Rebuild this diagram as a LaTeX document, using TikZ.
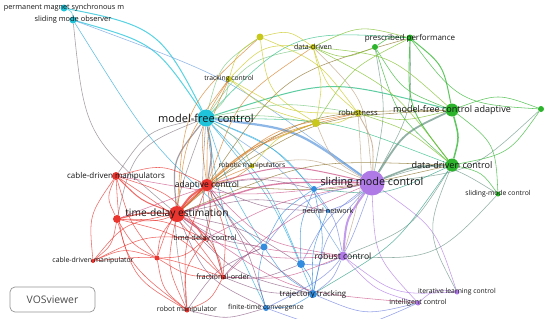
\documentclass[tikz,border=0pt]{standalone}
\usepackage{fontspec}
\setmainfont{Open Sans}
\definecolor{kcyan}{RGB}{32,196,218}
\definecolor{kyel}{RGB}{200,200,28}
\definecolor{kgreen}{RGB}{44,180,44}
\definecolor{kpurp}{RGB}{176,122,230}
\definecolor{kblue}{RGB}{52,140,222}
\definecolor{kred}{RGB}{234,52,46}
\definecolor{kbox}{RGB}{150,150,150}
\pgfdeclarelayer{edges}
\pgfdeclarelayer{labels}
\pgfsetlayers{edges,main,labels}
\tikzset{
  kwnode/.style={circle,inner sep=0pt,draw=none},
  kwlab/.style={inner sep=0pt,text=black!92},
  lk/.style={line width=0.55pt,draw opacity=0.75,bend left=20,looseness=1.35},
  logo/.style={draw=kbox,rounded corners=5pt,line width=0.7pt},
}
% name, x, y, colour, diameter, font size, text
\newcommand\kw[7]{%
  \node[kwnode,fill=#4,minimum size=#5pt] (#1) at (#2,#3) {};%
  \colorlet{c#1}{#4}%
  \def\kwtmp{#7}%
  \ifx\kwtmp\empty\else
  \begin{pgfonlayer}{labels}
  \node[kwlab,font=\fontsize{#6}{#6}\selectfont] (l#1) at (#2,#3) {#7};
  \end{pgfonlayer}\fi}
\newcommand\lk[3][]{\draw[lk,draw=c#2!50!c#3,#1] (#2) to (#3);}
\begin{document}
\begin{tikzpicture}[x=1pt,y=-1pt]
\useasboundingbox (0,0) rectangle (550,319);
\begin{pgfonlayer}{edges}
\fill[white] (0,0) rectangle (550,319);
\end{pgfonlayer}
% keywords
\kw{pmsm}{64}{8}{kcyan}{7}{7.3}{permanent magnet synchronous m}
\kw{smo}{73}{20}{kcyan}{7}{7.4}{sliding mode observer}
\kw{mfc}{206}{118}{kcyan}{17}{11}{model-free control}
\kw{tc}{229}{79}{kyel}{6}{6.8}{tracking control}
\kw{ya}{260}{37}{kyel}{7}{}{}
\kw{dd}{313}{47}{kyel}{6}{7.1}{data-driven}
\kw{rob}{358}{113}{kyel}{7}{7.6}{robustness}
\kw{yb}{316}{123}{kyel}{8}{}{}
\kw{rmb}{252}{166}{kyel}{5}{6.8}{robotic manipulators}
\kw{ga}{375}{47}{kgreen}{6}{}{}
\kw{pp}{410}{38}{kgreen}{7}{8}{prescribed performance}
\kw{mfca}{452}{110}{kgreen}{13}{9.1}{model-free control adaptive}
\kw{gb}{541}{109}{kgreen}{6}{}{}
\kw{ddc}{452}{165}{kgreen}{13}{9.1}{data-driven control}
\kw{smcb}{498}{194}{kgreen}{5}{6.8}{sliding-mode control}
\kw{smc}{372}{183}{kpurp}{25}{10.8}{sliding mode control}
\kw{rc}{343}{256}{kpurp}{9}{8.6}{robust control}
\kw{ilc}{457}{292}{kpurp}{5}{6.8}{iterative learning control}
\kw{ic}{418}{303}{kpurp}{5}{7}{intelligent control}
\kw{ba}{314}{189}{kblue}{6}{}{}
\kw{nn}{328}{211}{kblue}{4}{7.2}{neural network}
\kw{bb}{264}{247}{kblue}{7}{}{}
\kw{bc}{301}{264}{kblue}{8}{}{}
\kw{tt}{313}{294}{kblue}{8}{7.9}{trajectory tracking}
\kw{ftc}{266}{308}{kblue}{6}{6.9}{finite-time convergence}
\kw{tde}{177}{214}{kred}{16}{10.2}{time-delay estimation}
\kw{cdms}{116}{176}{kred}{8}{8}{cable-driven manipulators}
\kw{ac}{207}{185}{kred}{12}{8.5}{adaptive control}
\kw{ra}{117}{219}{kred}{8}{}{}
\kw{tdc}{205}{239}{kred}{4}{7.5}{time-delay control}
\kw{rb}{157}{258}{kred}{5}{}{}
\kw{cdm}{93}{261}{kred}{4}{6.9}{cable-driven manipulator}
\kw{fo}{223}{277}{kred}{5}{7.3}{fractional-order}
\kw{rm}{187}{310}{kred}{5}{7}{robot manipulator}
% logo
\node[logo,minimum width=85pt,minimum height=25pt] (logo) at (52.5,299.5) {};
\node[text=black!70,font=\fontsize{10.4}{10.4}\selectfont] (logotext) at (logo.center) {VOSviewer};
% links
\begin{pgfonlayer}{edges}
% cyan
\lk[line width=1pt,bend left=26]{pmsm}{mfc}
\lk[line width=1pt,bend left=20]{smo}{mfc}
\lk[bend left=30]{pmsm}{smo}
\lk[bend right=8]{smo}{bb}
\lk[bend right=22]{smo}{tde}
\lk[bend left=8]{smo}{smc}
% model-free control
\lk[line width=2.2pt,bend left=14]{mfc}{smc}
\lk[line width=1pt,bend left=16]{mfc}{mfca}
\lk[bend left=10]{mfc}{ddc}
\lk[bend left=10]{mfc}{rob}
\lk[bend left=6]{mfc}{yb}
\lk[bend right=20]{mfc}{tc}
\lk[bend left=22]{mfc}{dd}
\lk[bend left=25]{mfc}{pp}
\lk[bend left=20]{mfc}{ya}
\lk[line width=1.2pt,bend right=22]{mfc}{tde}
\lk[line width=1.2pt,bend left=10]{mfc}{ac}
\lk[bend right=22]{mfc}{cdms}
\lk[bend right=28]{mfc}{ra}
\lk[bend left=8]{mfc}{tdc}
\lk[bend right=10]{mfc}{fo}
\lk[bend right=15]{mfc}{rm}
\lk[bend left=12]{mfc}{ba}
\lk[bend left=15]{mfc}{nn}
\lk[bend left=12]{mfc}{rc}
\lk[bend left=8]{mfc}{tt}
\lk[bend left=10]{mfc}{bc}
\lk[bend right=6]{mfc}{bb}
\lk[bend right=8]{mfc}{ftc}
\lk[bend left=15]{mfc}{rmb}
% sliding mode control
\lk[line width=2pt,bend right=15]{smc}{rc}
\lk[bend left=18]{smc}{ilc}
\lk[bend right=20]{smc}{ic}
\lk[line width=1.6pt,bend left=10]{smc}{ddc}
\lk[line width=1.8pt,bend left=16]{smc}{mfca}
\lk[line width=1.4pt,bend right=10]{smc}{tde}
\lk[line width=1pt,bend right=14]{smc}{ac}
\lk[bend right=15]{smc}{tt}
\lk[bend right=15]{smc}{ba}
\lk[bend left=10]{smc}{nn}
\lk[bend right=12]{smc}{bc}
\lk[bend right=20]{smc}{bb}
\lk[bend left=22]{smc}{ftc}
\lk[line width=0.9pt,bend right=15]{smc}{rob}
\lk[bend left=18]{smc}{yb}
\lk[bend right=15]{smc}{pp}
\lk[bend right=10]{smc}{ga}
\lk[bend right=20]{smc}{dd}
\lk[bend left=25]{smc}{smcb}
\lk[bend right=10]{smc}{fo}
\lk[bend right=8]{smc}{tdc}
\lk[bend right=16]{smc}{rmb}
\lk[bend right=12]{smc}{ra}
\lk[bend left=8]{smc}{cdms}
\lk[bend right=18]{smc}{gb}
% time-delay estimation
\lk[line width=2pt,bend left=10]{tde}{ac}
\lk[line width=1pt,bend left=12]{tde}{cdms}
\lk[line width=1.2pt,bend right=8]{tde}{ra}
\lk[bend left=15]{tde}{tdc}
\lk[bend right=15]{tde}{rb}
\lk[bend right=20]{tde}{cdm}
\lk[bend left=20]{tde}{fo}
\lk[bend right=18]{tde}{rm}
\lk[bend right=10]{tde}{rc}
\lk[bend right=16]{tde}{tt}
\lk[bend left=10]{tde}{bc}
\lk[bend right=12]{tde}{bb}
\lk[bend right=20]{tde}{ftc}
\lk[bend left=12]{tde}{nn}
\lk[bend left=15]{tde}{rob}
\lk[bend left=12]{tde}{yb}
\lk[bend left=12]{tde}{ddc}
\lk[bend left=20]{tde}{mfca}
\lk[bend left=22]{tde}{ya}
\lk[bend left=15]{tde}{tc}
\lk[bend left=10]{tde}{rmb}
% adaptive control
\lk[bend right=20]{ac}{cdms}
\lk[bend left=25]{ac}{ra}
\lk[bend left=12]{ac}{tdc}
\lk[bend left=14]{ac}{fo}
\lk[bend right=12]{ac}{rm}
\lk[bend right=18]{ac}{rc}
\lk[bend right=10]{ac}{tt}
\lk[bend left=10]{ac}{ba}
\lk[bend right=10]{ac}{nn}
\lk[bend left=15]{ac}{rob}
\lk[bend left=10]{ac}{yb}
\lk[bend right=8]{ac}{ddc}
\lk[bend left=14]{ac}{mfca}
\lk[bend left=20]{ac}{pp}
\lk[bend left=18]{ac}{dd}
\lk[bend left=12]{ac}{tc}
\lk[bend right=15]{ac}{rb}
\lk[bend left=8]{ac}{ftc}
% red cluster
\lk[bend right=25]{cdms}{ra}
\lk[bend right=20]{cdms}{cdm}
\lk[bend left=20]{ra}{cdm}
\lk[bend right=15]{ra}{rb}
\lk[bend left=12]{ra}{tdc}
\lk[bend right=20]{rb}{cdm}
\lk[bend right=15]{rb}{fo}
\lk[bend right=20]{rb}{rm}
\lk[bend left=15]{cdm}{tdc}
\lk[bend left=20]{fo}{rm}
\lk[bend left=15]{tdc}{fo}
\lk[bend right=20]{tdc}{rm}
\lk[bend left=18]{cdms}{tdc}
\lk[bend right=10]{cdms}{rb}
\lk[bend right=22]{ra}{rm}
\lk[bend left=10]{cdms}{fo}
\lk[bend left=15]{ra}{fo}
\lk[bend left=20]{tdc}{rb}
\lk[bend right=25]{cdms}{rm}
\lk[bend left=12]{cdm}{fo}
% green cluster
\lk[line width=1.5pt,bend left=15]{mfca}{ddc}
\lk[line width=1pt,bend right=20]{mfca}{pp}
\lk[bend left=18]{mfca}{ga}
\lk[bend left=20]{mfca}{gb}
\lk[bend right=22]{ddc}{gb}
\lk[line width=0.9pt,bend left=20]{ddc}{pp}
\lk[bend left=15]{ddc}{ga}
\lk[bend left=20]{ddc}{smcb}
\lk[bend right=20]{pp}{ga}
\lk[bend right=20]{pp}{dd}
\lk[bend left=22]{ga}{dd}
\lk[bend left=12]{mfca}{rob}
\lk[bend left=25]{mfca}{smcb}
\lk[bend left=18]{ddc}{rc}
\lk[bend left=25]{smcb}{rc}
\lk[bend right=25]{ddc}{ilc}
\lk[bend left=25]{gb}{pp}
\lk[bend right=15]{pp}{yb}
\lk[bend left=12]{ddc}{tt}
\lk[bend right=18]{mfca}{dd}
\lk[bend left=15]{ddc}{ba}
% yellow cluster
\lk[bend left=25]{tc}{dd}
\lk[bend left=20]{tc}{ya}
\lk[bend left=25]{ya}{dd}
\lk[bend left=15]{ya}{rob}
\lk[bend right=15]{dd}{rob}
\lk[bend left=12]{dd}{yb}
\lk[bend right=15]{tc}{rob}
\lk[bend right=12]{tc}{yb}
\lk[bend left=15]{rob}{yb}
\lk[bend left=10]{rob}{ddc}
\lk[bend right=15]{yb}{rmb}
\lk[bend right=20]{tc}{ac}
\lk[bend left=12]{dd}{ddc}
\lk[bend left=10]{rob}{rc}
\lk[bend left=12]{rmb}{ac}
\lk[bend right=25]{ya}{yb}
% blue cluster
\lk[bend left=12]{ba}{tt}
\lk[bend right=12]{ba}{bc}
\lk[bend right=15]{ba}{bb}
\lk[bend right=12]{bb}{tt}
\lk[bend right=15]{bb}{ftc}
\lk[bend left=15]{bc}{tt}
\lk[bend left=15]{tt}{ftc}
\lk[bend right=15]{bc}{rc}
\lk[bend right=15]{tt}{rc}
\lk[bend right=18]{tt}{ic}
\lk[bend right=22]{ftc}{ic}
\lk[bend right=12]{bb}{fo}
\lk[bend left=12]{bc}{fo}
\lk[bend right=12]{nn}{tt}
\lk[bend left=12]{ba}{rc}
\lk[bend left=15]{ftc}{rm}
\lk[bend right=15]{bb}{rm}
\lk[bend left=10]{tt}{fo}
% purple cluster
\lk[bend right=20]{rc}{ilc}
\lk[bend right=15]{rc}{ic}
\lk[bend right=25]{ilc}{ic}
\lk[bend left=12]{rc}{fo}
\lk[bend left=15]{ic}{tde}
\lk[bend left=10]{rc}{tdc}
\end{pgfonlayer}
\end{tikzpicture}
\end{document}
